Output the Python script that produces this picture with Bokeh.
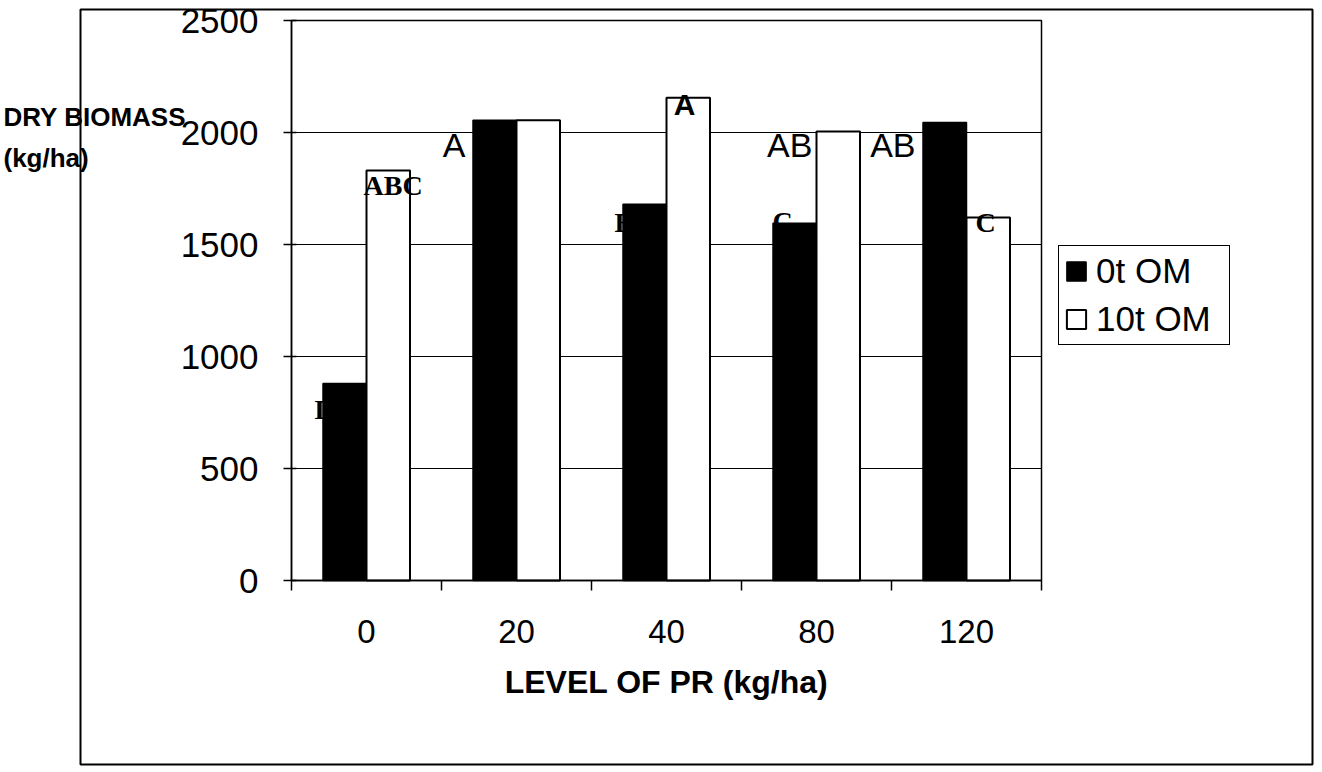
import numpy as np
from bokeh.plotting import figure
from bokeh.models import (Range1d, FixedTicker, Legend, LegendItem, Label,
                          BoxAnnotation, ColumnDataSource, LinearAxis)
from bokeh.transform import dodge
from bokeh.embed import file_html
from bokeh.resources import INLINE

# ---- data ----
categories = ["0", "20", "40", "80", "120"]
om0 = [880, 2055, 1680, 1595, 2045]      # 0t OM
om10 = [1830, 2055, 2155, 2005, 1620]    # 10t OM
series_names = ["0t OM", "10t OM"]
y_ticks = [0, 500, 1000, 1500, 2000, 2500]

SANS = "Liberation Sans"
SERIF = "Liberation Serif"

# ---- layout (pixels) ----
W, H = 1318, 770
PX_L, PX_R, PY_T, PY_B = 291, 1041, 20, 580
n = len(categories)
ymax = y_ticks[-1]
kx = (PX_R - PX_L) / n          # px per category
ky = (PY_B - PY_T) / ymax       # px per unit

x_range = Range1d(-PX_L / kx, (W - PX_L) / kx)
y_range = Range1d((PY_B - H) / ky, PY_B / ky)

centers = (np.arange(n) + 0.5).tolist()
src = ColumnDataSource(dict(x=centers, om0=om0, om10=om10))

p = figure(width=W, height=H, output_backend="svg", toolbar_location=None,
           x_range=x_range, y_range=y_range,
           x_axis_location=None, y_axis_location=None, min_border=0)
p.background_fill_color = "white"
p.border_fill_color = "white"
p.outline_line_color = None
p.xgrid.visible = False
p.ygrid.visible = False

# gridlines inside the plot area
gy = y_ticks[1:]
p.segment(x0=[0] * len(gy), x1=[n] * len(gy), y0=gy, y1=gy,
          line_color="black", line_width=1)
# plot-area border
p.quad(left=[0], right=[n], bottom=[0], top=[ymax], fill_color=None,
       line_color="black", line_width=1.5)

r0 = p.vbar(x=dodge("x", -0.145, range=p.x_range), top="om0", width=0.29,
            source=src, fill_color="black", line_color="black", line_width=1.5)
r1 = p.vbar(x=dodge("x", 0.145, range=p.x_range), top="om10", width=0.29,
            source=src, fill_color="white", line_color="black", line_width=2)

# y axis
yaxis = LinearAxis(fixed_location=0, bounds=(0, ymax),
                   ticker=FixedTicker(ticks=y_ticks))
yaxis.axis_line_color = "black"
yaxis.axis_line_width = 1.5
yaxis.major_tick_in = 5
yaxis.major_tick_out = 8
yaxis.major_tick_line_width = 1.5
yaxis.minor_tick_line_color = None
yaxis.major_label_text_font = SANS
yaxis.major_label_text_font_size = "35px"
yaxis.major_label_text_color = "black"
yaxis.major_label_standoff = 25
p.add_layout(yaxis, "left")

# x axis: labels at category centres, ticks at category boundaries
xaxis = LinearAxis(fixed_location=0, bounds=(0, n),
                   ticker=FixedTicker(ticks=centers,
                                      minor_ticks=list(range(n + 1))))
xaxis.major_label_overrides = {c: lab for c, lab in zip(centers, categories)}
xaxis.major_tick_line_color = None
xaxis.major_tick_out = 0
xaxis.major_tick_in = 0
xaxis.minor_tick_out = 10
xaxis.minor_tick_in = 0
xaxis.minor_tick_line_color = "black"
xaxis.minor_tick_line_width = 1.5
xaxis.axis_line_color = "black"
xaxis.axis_line_width = 1.5
xaxis.major_label_text_font = SANS
xaxis.major_label_text_font_size = "33px"
xaxis.major_label_text_color = "black"
xaxis.major_label_standoff = 29
xaxis.axis_label = "LEVEL OF PR (kg/ha)"
xaxis.axis_label_text_font = SANS
xaxis.axis_label_text_font_style = "bold"
xaxis.axis_label_text_font_size = "32px"
xaxis.axis_label_text_color = "black"
xaxis.axis_label_standoff = 18
p.add_layout(xaxis, "below")

# y title (horizontal, top left)
title_x = (3 - PX_L) / kx
p.add_layout(Label(x=title_x, y=2067, text="DRY BIOMASS", text_font=SANS,
                   text_font_style="bold", text_font_size="26px",
                   text_color="black", text_baseline="alphabetic"))
p.add_layout(Label(x=title_x, y=1888, text="(kg/ha)", text_font=SANS,
                   text_font_style="bold", text_font_size="26px",
                   text_color="black", text_baseline="alphabetic"))

# significance letters
letters = [
    # text, x, y, align, font, style, size
    ("D", 0.153, 763, "left", SERIF, "bold", "28px"),
    ("ABC", 0.48, 1763, "left", SERIF, "bold", "28px"),
    ("A", 1.16, 1942, "right", SANS, "normal", "34px"),
    ("B", 2.153, 1598, "left", SERIF, "bold", "28px"),
    ("A", 2.62, 2125, "center", SANS, "bold", "30px"),
    ("AB", 3.473, 1942, "right", SANS, "normal", "34px"),
    ("C", 3.207, 1603, "left", SERIF, "bold", "28px"),
    ("AB", 4.16, 1942, "right", SANS, "normal", "34px"),
    ("C", 4.56, 1598, "left", SERIF, "bold", "28px"),
]
for t, x, y, al, fnt, st, sz in letters:
    p.add_layout(Label(x=x, y=y, text=t, text_align=al, text_baseline="middle",
                       text_font=fnt, text_font_style=st, text_font_size=sz,
                       text_color="black"))

# outer chart border
p.add_layout(BoxAnnotation(left=(80 - PX_L) / kx, right=(1312 - PX_L) / kx,
                           top=(PY_B - 9) / ky, bottom=(PY_B - 764) / ky,
                           fill_alpha=0, line_color="black", line_alpha=1,
                           line_width=2, level="overlay"))

legend = Legend(items=[LegendItem(label=series_names[0], renderers=[r0]),
                       LegendItem(label=series_names[1], renderers=[r1])],
                location=(1058, H - 345))
legend.border_line_color = "black"
legend.border_line_alpha = 1
legend.border_line_width = 1.5
legend.background_fill_color = "white"
legend.background_fill_alpha = 1
legend.label_text_font = SANS
legend.label_text_font_size = "35px"
legend.label_text_color = "black"
legend.glyph_width = 24
legend.glyph_height = 24
legend.label_standoff = 8
legend.label_height = 40
legend.label_width = 128
legend.padding = 5
legend.spacing = 8
legend.margin = 0
p.add_layout(legend)

open("out.html", "w").write(file_html(p, INLINE))
